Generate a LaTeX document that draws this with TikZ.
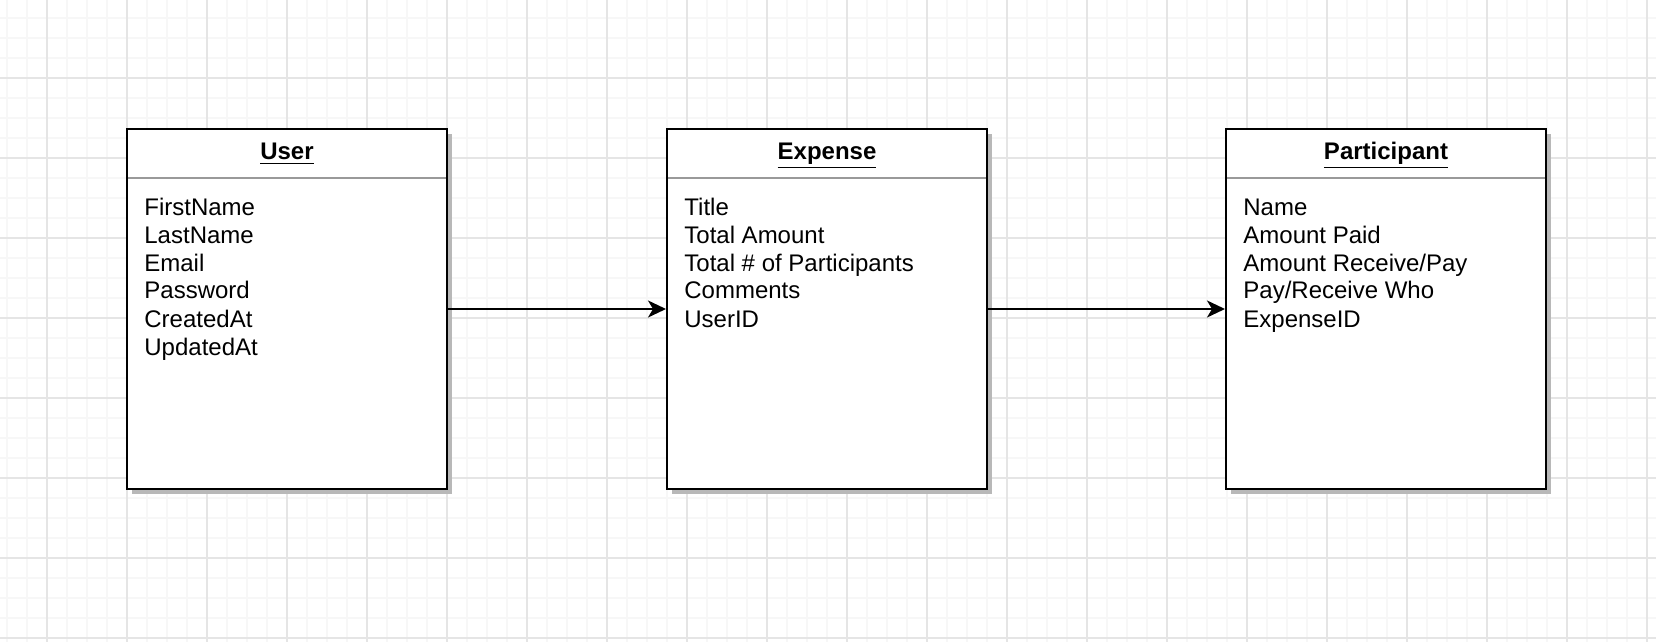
\documentclass[tikz,border=0pt]{standalone}
\usepackage{fontspec}
\setmainfont{Liberation Sans}
\usetikzlibrary{positioning,arrows.meta,calc,shadows}
\pgfdeclarelayer{bg}
\pgfsetlayers{bg,main}
\tikzset{
	>={Stealth[length=9pt,width=8.5pt,inset=2.5pt]}
}

\begin{document}
\begin{tikzpicture}[
x = 0.5pt, y = -0.5pt,
node distance = 109pt,
every node/.style = {
	font = \fontsize{12}{14}\selectfont
},
entity title/.style = {
	font = \fontsize{12}{14}\selectfont\bfseries,
	anchor = base,
	inner sep = 0pt
},
entity/.style = {
	draw,
	line width = 1pt,
	fill = white,
	minimum width = 160pt,
	minimum height = 180pt,
	inner sep = 0pt,
	drop shadow = {shadow xshift=2.5pt, shadow yshift=-2.5pt, fill=black!28, opacity=1}
},
field/.style = {
	anchor = base west,
	inner sep = 0pt
},
sep/.style = {
	line width = 1pt,
	black!40
},
rel/.style = {
	->,
	line width = 1pt
},
minor/.style = {
	line width = 1pt,
	black!3
},
major/.style = {
	line width = 1pt,
	black!10
}
]

\useasboundingbox (0,0) rectangle (1656,642);

% grid of the drawing area
\begin{pgfonlayer}{bg}
\fill[white] (0,0) rectangle (1656,642);
\foreach \x in {7,27,...,1656} \draw[minor] (\x,0) -- (\x,642);
\foreach \y in {18,38,...,642} \draw[minor] (0,\y) -- (1656,\y);
\foreach \x in {47,127,...,1656} \draw[major] (\x,0) -- (\x,642);
\foreach \y in {-2,78,...,642} \draw[major] (0,\y) -- (1656,\y);
\end{pgfonlayer}

\node [entity] (user) at (287,309) {};
\node [entity, right = of user] (expense) {};
\node [entity, right = 118.5pt of expense] (participant) {};

\node [entity title] (user-title) at ($(user.north)+(0,32)$) {\underline{User}};
\node [entity title] (expense-title) at ($(expense.north)+(0,32)$) {\underline{Expense}};
\node [entity title] (participant-title) at ($(participant.north)+(0,32)$) {\underline{Participant}};

\foreach \e in {user,expense,participant}
	\draw[sep] ($(\e.north west)+(2,50)$) -- ($(\e.north east)+(-2,50)$);

\foreach \f [count=\i] in {FirstName,LastName,Email,Password,CreatedAt,UpdatedAt}
	\node [field] (user-\i) at ($(user.north west)+(18,59+28*\i)$) {\f};
\foreach \f [count=\i] in {Title,Total Amount,Total \# of Participants,Comments,UserID}
	\node [field] (expense-\i) at ($(expense.north west)+(18,59+28*\i)$) {\f};
\foreach \f [count=\i] in {Name,Amount Paid,Amount Receive/Pay,Pay/Receive Who,ExpenseID}
	\node [field] (participant-\i) at ($(participant.north west)+(18,59+28*\i)$) {\f};

\draw[rel] (user) -- (expense);
\draw[rel] (expense) -- (participant);

\end{tikzpicture}
\end{document}
